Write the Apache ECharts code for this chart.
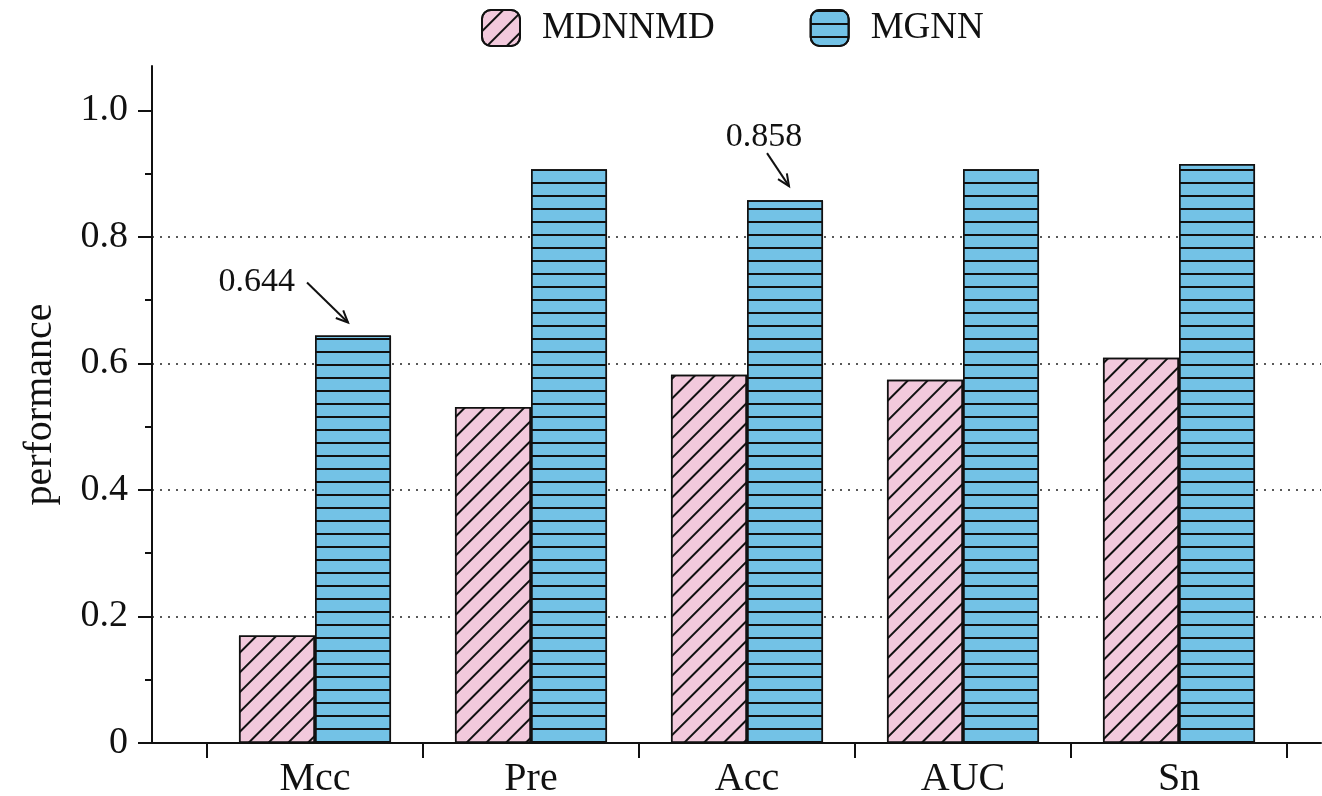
<!DOCTYPE html>
<html>
<head>
<meta charset="utf-8">
<title>performance</title>
<script src="https://cdn.jsdelivr.net/npm/echarts@6/dist/echarts.min.js"></script>
<style>
  html, body { margin: 0; padding: 0; background: #fff; }
  #chart { width: 1322px; height: 796px; }
</style>
</head>
<body>
<div id="chart"></div>
<script>
// ---- data ----
const categories = ['Mcc', 'Pre', 'Acc', 'AUC', 'Sn'];
const seriesNames = ['MDNNMD', 'MGNN'];
const mdnnmd = [0.170, 0.531, 0.582, 0.574, 0.609];
const mgnn = [0.644, 0.907, 0.858, 0.907, 0.915];
const majorTicks = [0, 0.2, 0.4, 0.6, 0.8, 1.0];
const minorTicks = [0.1, 0.3, 0.5, 0.7, 0.9];
const annotated = ['Mcc', 'Acc'];   // MGNN bars that get a value callout

// ---- styling ----
const FONT = '"Liberation Serif", "DejaVu Serif", serif';
const INK = '#111';
const PINK = '#f2c9dc';
const BLUE = '#73c2e6';
const Y_MAX = 1.07;
const CAT_GAP = 0.296;
// callout geometry in pixels, relative to the top-centre of the bar
const calloutLayout = {
  Mcc: { text: [-58, -53], align: 'right', tail: [-46, -53], tip: [-5, -13] },
  Acc: { text: [-21, -63], align: 'center', tail: [-18, -47], tip: [4, -14] }
};

const diagHatch = {
  symbol: 'rect', symbolSize: 1,
  dashArrayX: [[10, 0]], dashArrayY: [2, 12],
  rotation: -Math.PI / 4, color: INK
};
const lineHatch = {
  symbol: 'rect', symbolSize: 1,
  dashArrayX: [[10, 0]], dashArrayY: [2, 11],
  rotation: 0, color: INK
};

const chart = echarts.init(document.getElementById('chart'), null, { renderer: 'canvas' });

const calloutData = annotated.map(c => {
  const i = categories.indexOf(c);
  return [i, mgnn[i]];
});

const option = {
  animation: false,
  backgroundColor: '#fff',
  textStyle: { fontFamily: FONT, color: INK },
  legend: {
    data: seriesNames,
    left: 481, top: 9,
    itemWidth: 38, itemHeight: 36, itemGap: 95,
    padding: 0,
    icon: 'roundRect',
    itemStyle: { borderColor: INK, borderWidth: 2 },
    textStyle: { fontFamily: FONT, fontSize: 37, color: INK, padding: [4, 0, 0, 17] }
  },
  grid: [
    { left: 152, right: 1, top: 66, bottom: 53, outerBoundsMode: 'none', containLabel: false },
    { left: 207, right: 35, top: 66, bottom: 53, outerBoundsMode: 'none', containLabel: false }
  ],
  xAxis: [
    {
      type: 'value', gridIndex: 0, min: 0, max: 1,
      axisLine: { show: true, onZero: false, lineStyle: { color: INK, width: 2 } },
      axisTick: { show: false }, axisLabel: { show: false }, splitLine: { show: false }
    },
    {
      type: 'category', gridIndex: 1, data: categories,
      axisLine: { show: false },
      axisTick: { show: true, length: 15, lineStyle: { color: INK, width: 2 } },
      axisLabel: { fontFamily: FONT, fontSize: 40, color: INK, margin: 16 },
      splitLine: { show: false }
    }
  ],
  yAxis: [
    {
      type: 'value', gridIndex: 0, min: 0, max: Y_MAX, interval: 0.2, position: 'left',
      name: 'performance', nameLocation: 'middle', nameGap: 92,
      nameTextStyle: { fontFamily: FONT, fontSize: 40, color: INK },
      axisLine: { show: true, onZero: false, lineStyle: { color: INK, width: 2 } },
      axisTick: { show: true, length: 14, customValues: majorTicks, lineStyle: { color: INK, width: 2 } },
      axisLabel: {
        customValues: majorTicks, fontFamily: FONT, fontSize: 38, color: INK, margin: 24,
        formatter: v => (v === 0 ? '0' : v.toFixed(1))
      },
      splitLine: {
        show: true, showMinLine: false, showMaxLine: false,
        lineStyle: { color: '#222', width: 1.6, type: [2, 6] }
      }
    },
    {
      type: 'value', gridIndex: 0, min: 0, max: Y_MAX, interval: 0.2, position: 'left',
      axisLine: { show: false },
      axisTick: { show: true, length: 7, customValues: minorTicks, lineStyle: { color: INK, width: 2 } },
      axisLabel: { show: false }, splitLine: { show: false }
    },
    {
      type: 'value', gridIndex: 1, min: 0, max: Y_MAX, show: false
    }
  ],
  series: [
    {
      name: seriesNames[0], type: 'bar', xAxisIndex: 1, yAxisIndex: 2,
      data: mdnnmd, barGap: '0%', barCategoryGap: (CAT_GAP * 100) + '%',
      itemStyle: { color: PINK, borderColor: INK, borderWidth: 1.5, decal: diagHatch }
    },
    {
      name: seriesNames[1], type: 'bar', xAxisIndex: 1, yAxisIndex: 2,
      data: mgnn, barGap: '0%', barCategoryGap: (CAT_GAP * 100) + '%',
      itemStyle: { color: BLUE, borderColor: INK, borderWidth: 1.5, decal: lineHatch }
    },
    {
      name: 'callouts', type: 'custom', xAxisIndex: 1, yAxisIndex: 2,
      clip: false, silent: true, z: 10,
      data: calloutData,
      renderItem: function (params, api) {
        const idx = api.value(0);
        const val = api.value(1);
        const pt = api.coord([idx, val]);
        const band = api.size([1, 0])[0];
        const barW = band * (1 - CAT_GAP) / 2;
        const cx = pt[0] + barW / 2;
        const cy = pt[1];
        const L = calloutLayout[categories[idx]];
        const tail = [cx + L.tail[0], cy + L.tail[1]];
        const tip = [cx + L.tip[0], cy + L.tip[1]];
        const ang = Math.atan2(tip[1] - tail[1], tip[0] - tail[0]);
        const head = 13, spread = 0.42;
        const b1 = [tip[0] - head * Math.cos(ang - spread), tip[1] - head * Math.sin(ang - spread)];
        const b2 = [tip[0] - head * Math.cos(ang + spread), tip[1] - head * Math.sin(ang + spread)];
        return {
          type: 'group',
          children: [
            {
              type: 'text',
              style: {
                x: cx + L.text[0], y: cy + L.text[1],
                text: val.toFixed(3), align: L.align, verticalAlign: 'middle',
                font: '34px ' + FONT, fill: INK
              }
            },
            {
              type: 'line',
              shape: { x1: tail[0], y1: tail[1], x2: tip[0], y2: tip[1] },
              style: { stroke: INK, lineWidth: 2 }
            },
            {
              type: 'polyline',
              shape: { points: [b1, tip, b2] },
              style: { stroke: INK, lineWidth: 2, fill: null }
            }
          ]
        };
      }
    }
  ]
};

chart.setOption(option);
</script>
</body>
</html>
